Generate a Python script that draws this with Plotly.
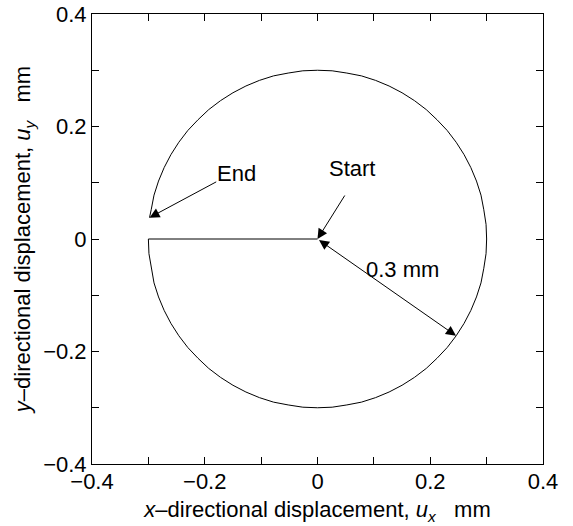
import plotly.graph_objects as go

# Path of the displacement (mm): start at origin, go to (-0.3, 0), then around the circle
path_x = [0.000,
          -0.300, -0.299, -0.295, -0.290, -0.282, -0.272, -0.260, -0.246, -0.230, -0.212,
          -0.193, -0.172, -0.150, -0.127, -0.103, -0.078, -0.052, -0.026, 0.000,
          0.026, 0.052, 0.078, 0.103, 0.127, 0.150, 0.172, 0.193, 0.212,
          0.230, 0.246, 0.260, 0.272, 0.282, 0.290, 0.295, 0.299, 0.300,
          0.299, 0.295, 0.290, 0.282, 0.272, 0.260, 0.246, 0.230, 0.212,
          0.193, 0.172, 0.150, 0.127, 0.103, 0.078, 0.052, 0.026, 0.000,
          -0.026, -0.052, -0.078, -0.103, -0.127, -0.150, -0.172, -0.193, -0.212,
          -0.230, -0.246, -0.260, -0.272, -0.282, -0.290, -0.295, -0.298]
path_y = [0.000,
          0.000, -0.026, -0.052, -0.078, -0.103, -0.127, -0.150, -0.172, -0.193, -0.212,
          -0.230, -0.246, -0.260, -0.272, -0.282, -0.290, -0.295, -0.299, -0.300,
          -0.299, -0.295, -0.290, -0.282, -0.272, -0.260, -0.246, -0.230, -0.212,
          -0.193, -0.172, -0.150, -0.127, -0.103, -0.078, -0.052, -0.026, 0.000,
          0.026, 0.052, 0.078, 0.103, 0.127, 0.150, 0.172, 0.193, 0.212,
          0.230, 0.246, 0.260, 0.272, 0.282, 0.290, 0.295, 0.299, 0.300,
          0.299, 0.295, 0.290, 0.282, 0.272, 0.260, 0.246, 0.230, 0.212,
          0.193, 0.172, 0.150, 0.127, 0.103, 0.078, 0.052, 0.038]

tick_vals = [-0.4, -0.2, 0, 0.2, 0.4]
tick_text = ["\u22120.4", "\u22120.2", "0", "0.2", "0.4"]

# Annotation labels and anchor points
end_label = "End"
end_text_pos = (-0.143, 0.117)
end_arrow_tail = (-0.177, 0.103)
end_point = (-0.298, 0.038)

start_label = "Start"
start_text_pos = (0.061, 0.126)
start_arrow_tail = (0.050, 0.080)
start_point = (0.0, 0.0)

radius_label = "0.3 mm"
radius_text_pos = (0.151, -0.055)
radius_point = (0.2457, -0.172)

FONT = "Liberation Sans, Arial, sans-serif"
FS = 22

fig = go.Figure()
fig.add_trace(go.Scatter(x=path_x, y=path_y, mode="lines",
                         line=dict(color="black", width=1), showlegend=False,
                         hoverinfo="skip"))

axis_common = dict(
    range=[-0.4, 0.4], tickvals=tick_vals, ticktext=tick_text,
    ticks="inside", ticklen=7, tickwidth=1, tickcolor="black",
    showline=True, linecolor="black", linewidth=1, mirror="allticks",
    showgrid=False, zeroline=False, automargin=False,
    ticklabeloverflow="allow",
    minor=dict(dtick=0.1, tick0=0, ticks="inside", ticklen=7, tickwidth=1,
               tickcolor="black", showgrid=False),
    tickfont=dict(family=FONT, size=FS, color="black"),
)

fig.update_layout(
    width=573, height=526,
    margin=dict(l=92, r=30, t=14, b=62),
    paper_bgcolor="white", plot_bgcolor="white",
    xaxis=dict(**axis_common, ticklabelstandoff=-2,
               title=dict(text="<i>x</i>\u2013directional displacement, <i>u</i><sub><i>x</i></sub>\u00a0\u00a0\u00a0mm",
                          font=dict(family=FONT, size=FS, color="black"), standoff=8)),
    yaxis=dict(**axis_common,
               title=dict(text="<i>y</i>\u2013directional displacement, <i>u</i><sub><i>y</i></sub>\u00a0\u00a0\u00a0mm",
                          font=dict(family=FONT, size=FS, color="black"), standoff=6)),
    font=dict(family=FONT, size=FS, color="black"),
)

def arrow(head, tail, both=False):
    fig.add_annotation(x=head[0], y=head[1], ax=tail[0], ay=tail[1],
                       xref="x", yref="y", axref="x", ayref="y",
                       text="", showarrow=True, arrowhead=2, startarrowhead=2,
                       arrowsize=2, startarrowsize=2, arrowwidth=1,
                       arrowcolor="black",
                       arrowside="end+start" if both else "end",
                       standoff=0, startstandoff=0)

def label(text, pos):
    fig.add_annotation(x=pos[0], y=pos[1], xref="x", yref="y", text=text,
                       showarrow=False, font=dict(family=FONT, size=FS, color="black"))

arrow(end_point, end_arrow_tail)
arrow(start_point, start_arrow_tail)
arrow(radius_point, start_point, both=True)
label(end_label, end_text_pos)
label(start_label, start_text_pos)
label(radius_label, radius_text_pos)

fig.write_html("out.html", config={"displayModeBar": False},
               post_script="document.body.style.margin='0';")
